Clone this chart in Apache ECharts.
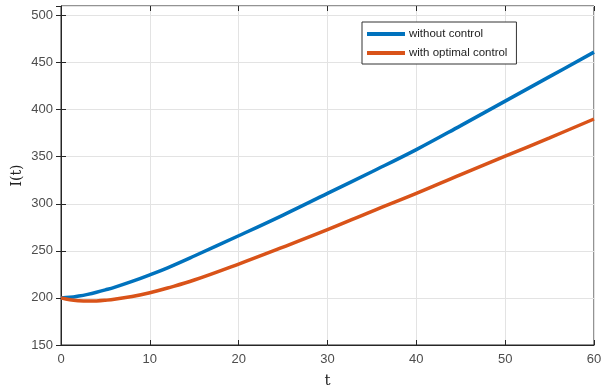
<!DOCTYPE html>
<html>
<head>
<meta charset="utf-8">
<script src="https://cdn.jsdelivr.net/npm/echarts@6/dist/echarts.min.js"></script>
<style>
  html, body { margin: 0; padding: 0; background: #fff; }
  #chart { width: 602px; height: 387px; }
</style>
</head>
<body>
<div id="chart"></div>
<script>
// t values and I(t)
var tValues = [0, 1, 2, 3, 4, 5, 6, 8, 10, 12, 15, 20, 25, 30, 35, 40, 45, 50, 55, 60];
var withoutControl = [200, 200.6, 202, 203.8, 206, 208.5, 211.2, 217.5, 224.5, 232, 244.5, 266, 288, 311, 334, 357.5, 383, 409, 435, 461];
var withOptimal = [200, 198, 197, 196.6, 196.8, 197.5, 198.5, 201.5, 205.5, 210.5, 219, 236, 254, 272.5, 292, 311, 331, 350.5, 370, 390];
var xTicks = [0, 10, 20, 30, 40, 50, 60];
var yTicks = [150, 200, 250, 300, 350, 400, 450, 500];

function pairs(xs, ys) {
    var out = [];
    for (var i = 0; i < xs.length; i++) out.push([xs[i], ys[i]]);
    return out;
}

var labelFont = { color: '#4d4d4d', fontSize: 13, fontFamily: 'Liberation Sans, Arial, sans-serif' };

var myChart = echarts.init(document.getElementById('chart'));
var option = {
    animation: false,
    backgroundColor: '#fff',
    grid: {
        left: 61, right: 8, top: 6, bottom: 42,
        outerBoundsMode: 'none',
        show: true, borderColor: '#262626', borderWidth: 1
    },
    legend: {
        orient: 'vertical',
        left: 362, top: 22,
        data: ['without control', 'with optimal control'],
        icon: 'rect',
        itemWidth: 38, itemHeight: 4, itemGap: 5,
        padding: [5, 9, 4, 5],
        borderColor: '#333', borderWidth: 1, borderRadius: 0,
        backgroundColor: '#fff',
        textStyle: { color: '#222', fontSize: 11.5, lineHeight: 14, fontFamily: 'Liberation Sans, Arial, sans-serif', padding: [0, 0, 0, -1] }
    },
    xAxis: [{
        type: 'value',
        min: xTicks[0], max: xTicks[xTicks.length - 1], interval: 10,
        name: 't', nameLocation: 'middle', nameGap: 29,
        nameTextStyle: { fontSize: 15, color: '#222', fontFamily: 'DejaVu Serif, serif' },
        axisLine: { lineStyle: { color: '#262626' } },
        axisTick: { inside: true, length: 5, lineStyle: { color: '#262626' } },
        axisLabel: labelFont,
        splitLine: { show: true, lineStyle: { color: '#e3e3e3' } }
    }, {
        type: 'value', position: 'top',
        min: 0, max: 60, interval: 10,
        axisLine: { show: false },
        axisTick: { inside: true, length: 5, lineStyle: { color: '#262626' } },
        axisLabel: { show: false },
        splitLine: { show: false }
    }],
    yAxis: [{
        type: 'value',
        min: yTicks[0], max: 510, interval: 50,
        name: 'I(t)', nameLocation: 'middle', nameGap: 37, nameRotate: 90,
        nameMoveOverlap: false,
        nameTextStyle: { fontSize: 14, color: '#222', fontFamily: 'DejaVu Serif, serif' },
        axisLine: { show: true, lineStyle: { color: '#262626' } },
        axisTick: { show: true, inside: true, length: 5, lineStyle: { color: '#262626' } },
        axisLabel: { color: '#4d4d4d', fontSize: 13, fontFamily: 'Liberation Sans, Arial, sans-serif', showMaxLabel: false },
        splitLine: { show: true, lineStyle: { color: '#e3e3e3' } }
    }, {
        type: 'value', position: 'right',
        min: 150, max: 510, interval: 50,
        axisLine: { show: false },
        axisTick: { show: true, inside: true, length: 5, lineStyle: { color: '#262626' } },
        axisLabel: { show: false },
        splitLine: { show: false }
    }],
    series: [
        {
            name: 'without control', type: 'line', smooth: 0.4, showSymbol: false,
            color: '#0072BD', lineStyle: { width: 3.5 },
            data: pairs(tValues, withoutControl)
        },
        {
            name: 'with optimal control', type: 'line', smooth: 0.4, showSymbol: false,
            color: '#D95319', lineStyle: { width: 3.5 },
            data: pairs(tValues, withOptimal)
        }
    ]
};
myChart.setOption(option);
</script>
</body>
</html>
